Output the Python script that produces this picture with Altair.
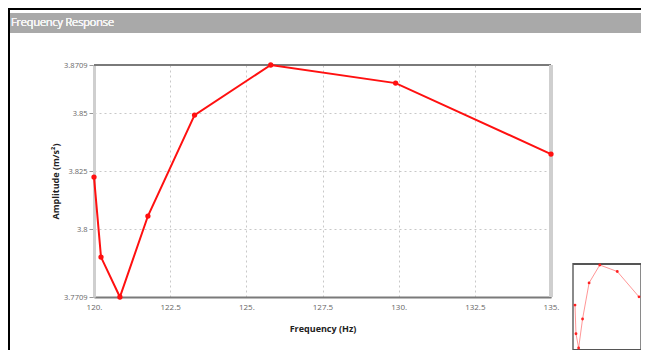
import altair as alt
import pandas as pd

freq = [120.0, 120.23, 120.85, 121.77, 123.3, 125.8, 129.9, 135.0]
amp = [3.8226, 3.7881, 3.7709, 3.8058, 3.8493, 3.8709, 3.8631, 3.8325]
y_ticks = [3.7709, 3.8, 3.825, 3.85, 3.8709]
x_ticks = [120.0, 122.5, 125.0, 127.5, 130.0, 132.5, 135.0]

df = pd.DataFrame({"freq": freq, "amp": amp})

FONT = "Open Sans"
W, H = 457, 232
PAD = {"left": 86, "top": 57, "right": 90, "bottom": 53}

xs = alt.Scale(domain=[120, 135], nice=False, zero=False)
ys = alt.Scale(domain=[3.7709, 3.8709], nice=False, zero=False)

base = alt.Chart(df)

line = base.mark_line(color="#ff1010", strokeWidth=2).encode(
    x=alt.X("freq:Q", scale=xs, title="Frequency (Hz)",
            axis=alt.Axis(values=x_ticks,
                          labelExpr="datum.value % 1 == 0 ? format(datum.value, 'd') + '.' : format(datum.value, '.1f')",
                          grid=True, gridDash=[2, 3], gridColor="#c8c8c8",
                          domainColor="#7a7a7a", domainWidth=2, labelFlush=False,
                          tickSize=0, labelFontSize=8, labelColor="#666",
                          labelFont=FONT, labelPadding=6,
                          titleFont=FONT, titleFontSize=9, titleFontWeight="bold",
                          titleColor="#222", titlePadding=13)),
    y=alt.Y("amp:Q", scale=ys, title="Amplitude (m/s²)",
            axis=alt.Axis(values=y_ticks,
                          labelExpr="datum.value == 3.7709 ? '3.7709' : datum.value == 3.8709 ? '3.8709' : format(datum.value, '')",
                          grid=True, gridDash=[2, 3], gridColor="#c8c8c8",
                          domainColor="#cfcfcf", domainWidth=3, labelFlush=False,
                          tickSize=5, tickColor="#999",
                          labelFontSize=7.5, labelColor="#666", labelFont=FONT,
                          titleFont=FONT, titleFontSize=9, titleFontWeight="bold",
                          titleColor="#222", titlePadding=3)),
)
pts = base.mark_point(color="#ff1010", filled=True, size=28, opacity=1).encode(
    x=alt.X("freq:Q", scale=xs), y=alt.Y("amp:Q", scale=ys))

# frame top / right
top_rule = base.mark_rule(color="#7a7a7a", strokeWidth=2).encode(
    x=alt.value(0), x2=alt.value(W), y=alt.value(0))
right_rule = base.mark_rule(color="#cfcfcf", strokeWidth=3).encode(
    x=alt.value(W), y=alt.value(0), y2=alt.value(H))

# header bar
header = base.mark_rect(color="#a9a9a9").encode(
    x=alt.value(-86), x2=alt.value(547), y=alt.value(-52), y2=alt.value(-32))
header_txt = base.mark_text(text="Frequency Response", color="#f4f4f4", align="left",
                            baseline="middle", font=FONT, fontSize=11, fontWeight=300).encode(
    x=alt.value(-83), y=alt.value(-42))
left_border = base.mark_rule(color="#000", strokeWidth=2).encode(
    x=alt.value(-85), y=alt.value(-57), y2=alt.value(285))
top_border = base.mark_rule(color="#000", strokeWidth=2).encode(
    x=alt.value(-86), x2=alt.value(547), y=alt.value(-56))

# minimap
mxs = alt.Scale(domain=[120, 135], nice=False, zero=False, range=[481, 545])
mys = alt.Scale(domain=[3.7709, 3.8709], nice=False, zero=False, range=[283, 200])
mini_box = base.mark_rect(fill="white", stroke="#8a8a8a", strokeWidth=2).encode(
    x=alt.value(479), x2=alt.value(547), y=alt.value(199), y2=alt.value(285))
mini_top = base.mark_rule(color="#555", strokeWidth=2).encode(
    x=alt.value(479), x2=alt.value(547), y=alt.value(199))
mini_bot = base.mark_rule(color="#555", strokeWidth=2).encode(
    x=alt.value(479), x2=alt.value(547), y=alt.value(285))
mini_line = base.mark_line(color="#ff5050", strokeWidth=1, opacity=0.6).encode(
    x=alt.X("freq:Q", scale=mxs, axis=None), y=alt.Y("amp:Q", scale=mys, axis=None))
mini_pts = base.mark_point(color="#ff2020", filled=True, size=8, opacity=1).encode(
    x=alt.X("freq:Q", scale=mxs, axis=None), y=alt.Y("amp:Q", scale=mys, axis=None))

main = alt.layer(top_rule, right_rule, line, pts)
mini = alt.layer(mini_box, mini_top, mini_bot, mini_line, mini_pts).resolve_scale(x="shared", y="shared")
deco = alt.layer(header, header_txt, left_border, top_border)

chart = alt.layer(deco, main, mini).resolve_scale(x="independent", y="independent").properties(
    width=W, height=H,
    autosize=alt.AutoSizeParams(type="none"),
    padding=PAD,
).configure_view(stroke=None).configure(background="white")

chart.save("out.html", embed_options={"renderer": "svg", "actions": False})
